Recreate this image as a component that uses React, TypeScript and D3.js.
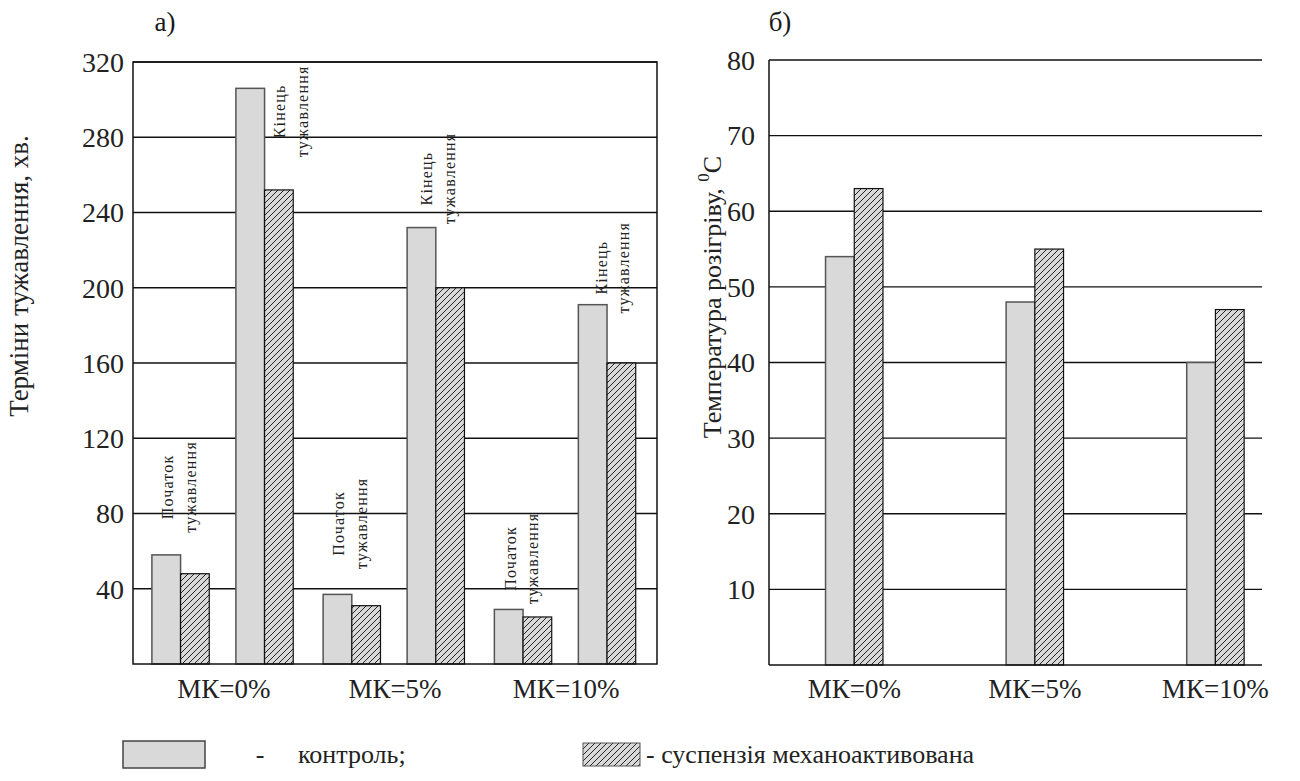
import React from 'react';
import * as d3 from 'd3';

// --- data ---
const groups = ['МК=0%', 'МК=5%', 'МК=10%'];
const phases = ['start', 'end'];
const seriesKeys = ['control', 'activated'];

// setting time, min (panel a)
const startControl = [58, 37, 29];
const startActivated = [48, 31, 25];
const endControl = [306, 232, 191];
const endActivated = [252, 200, 160];

// heating temperature, °C (panel b)
const tempControl = [54, 48, 40];
const tempActivated = [63, 55, 47];

const leftTicks = [40, 80, 120, 160, 200, 240, 280, 320];
const rightTicks = [10, 20, 30, 40, 50, 60, 70, 80];

const startNote = ['Початок', 'тужавлення'];
const endNote = ['Кінець', 'тужавлення'];

const W = 1300;
const H = 781;
const font = 'Liberation Serif, serif';
const grey = '#d9d9d9';
const ink = '#1a1a1a';

// hand placement of the small rotated notes (px, relative to the bars)
const startNoteLayout = [
  { dx: -2, lift: 19 },
  { dx: -2, lift: 22 },
  { dx: -2, lift: 2 },
];
const endNoteLayout = [
  { dx: 26, lift: -72 },
  { dx: 2, lift: 0 },
  { dx: 5, lift: -12 },
];

function Note({ cx, bottom, lines }: { cx: number; bottom: number; lines: string[] }) {
  const cy = bottom - 49;
  return (
    <text
      transform={`translate(${cx},${cy}) rotate(-90)`}
      textAnchor="middle"
      fontSize={16}
      letterSpacing={1.2}
      fill="#222"
    >
      <tspan x={0} y={-11} dominantBaseline="central">{lines[0]}</tspan>
      <tspan x={0} y={11.5} dominantBaseline="central">{lines[1]}</tspan>
    </text>
  );
}

function Bar({ x, y, w, h, kind }: { x: number; y: number; w: number; h: number; kind: string }) {
  return kind === 'control' ? (
    <rect x={x} y={y} width={w} height={h} fill={grey} stroke="#555" strokeWidth={1.5} />
  ) : (
    <rect x={x} y={y} width={w} height={h} fill="url(#hatch)" stroke="#111" strokeWidth={1.2} />
  );
}

export default function App() {
  // ---------- panel a ----------
  const aLeft = 133, aRight = 657, aTop = 62, aBottom = 664;
  const yA = d3.scaleLinear().domain([0, 320]).range([aBottom, aTop]);
  const xA = d3.scaleBand<string>().domain(groups).range([aLeft, aRight])
    .paddingInner(0).paddingOuter(0.03);
  const xPhase = d3.scaleBand<string>().domain(phases).range([0, xA.bandwidth()])
    .paddingInner(0.317).paddingOuter(0.178).align(0.46);
  const xSerA = d3.scaleBand<string>().domain(seriesKeys).range([0, xPhase.bandwidth()]);

  const aValues: Record<string, number[][]> = {
    start: [startControl, startActivated],
    end: [endControl, endActivated],
  };

  // ---------- panel b ----------
  const bLeft = 769, bRight = 1262, bTop = 60, bBottom = 665;
  const yB = d3.scaleLinear().domain([0, 80]).range([bBottom, bTop]);
  const xB = d3.scaleBand<string>().domain(groups).range([bLeft, bRight])
    .paddingInner(0.682).paddingOuter(0.206).align(0.76);
  const xSerB = d3.scaleBand<string>().domain(seriesKeys).range([0, xB.bandwidth()]);
  const bValues = [tempControl, tempActivated];

  return (
    <svg
      width={W}
      height={H}
      fontFamily={font}
      style={{ position: 'absolute', left: 0, top: 0, background: '#fff', fontFamily: font }}
    >
      <defs>
        <pattern id="hatch" patternUnits="userSpaceOnUse" width={6} height={6}>
          <rect width={6} height={6} fill={grey} />
          <path d="M-1,1 L1,-1 M0,6 L6,0 M5,7 L7,5" stroke="#111" strokeWidth={0.9} />
        </pattern>
      </defs>

      {/* panel letters */}
      <text x={165} y={31} textAnchor="middle" fontSize={27} fill={ink}>а)</text>
      <text x={780} y={31} textAnchor="middle" fontSize={27} fill={ink}>б)</text>

      {/* ----- panel a ----- */}
      <g>
        {leftTicks.map((t) => (
          <g key={t}>
            <line x1={aLeft} x2={aRight} y1={yA(t)} y2={yA(t)} stroke="#111" strokeWidth={1.3} />
            <text x={124} y={yA(t)} dy="0.35em" textAnchor="end" fontSize={28} fill="#222">
              {t}
            </text>
          </g>
        ))}
        {groups.map((g, gi) =>
          phases.map((p) =>
            seriesKeys.map((s, si) => {
              const v = aValues[p][si][gi];
              const x = (xA(g) ?? 0) + (xPhase(p) ?? 0) + (xSerA(s) ?? 0);
              return (
                <Bar key={g + p + s} x={x} y={yA(v)} w={xSerA.bandwidth()} h={yA(0) - yA(v)} kind={s} />
              );
            })
          )
        )}
        {groups.map((g, gi) => {
          const sx = (xA(g) ?? 0) + (xPhase('start') ?? 0) + xPhase.bandwidth() / 2;
          const ex = (xA(g) ?? 0) + (xPhase('end') ?? 0) + xPhase.bandwidth() / 2;
          return (
            <g key={'n' + g}>
              <Note cx={sx + startNoteLayout[gi].dx} bottom={yA(startControl[gi]) - startNoteLayout[gi].lift} lines={startNote} />
              <Note cx={ex + endNoteLayout[gi].dx} bottom={yA(endControl[gi]) - endNoteLayout[gi].lift} lines={endNote} />
            </g>
          );
        })}
        <rect x={aLeft} y={aTop} width={aRight - aLeft} height={aBottom - aTop} fill="none" stroke="#111" strokeWidth={1.5} />
        {groups.map((g) => (
          <text key={'xa' + g} x={(xA(g) ?? 0) + xA.bandwidth() / 2} y={698} textAnchor="middle" fontSize={27} fill="#222">
            {g}
          </text>
        ))}
        <text transform="translate(28,276) rotate(-90)" textAnchor="middle" fontSize={27} fill="#222">
          Терміни тужавлення, хв.
        </text>
      </g>

      {/* ----- panel b ----- */}
      <g>
        {rightTicks.map((t) => (
          <g key={t}>
            <line x1={bLeft} x2={bRight} y1={yB(t)} y2={yB(t)} stroke="#111" strokeWidth={1.3} />
            <text x={755} y={yB(t)} dy="0.35em" textAnchor="end" fontSize={28} fill="#222">
              {t}
            </text>
          </g>
        ))}
        {groups.map((g, gi) =>
          seriesKeys.map((s, si) => {
            const v = bValues[si][gi];
            const x = (xB(g) ?? 0) + (xSerB(s) ?? 0);
            return <Bar key={g + s} x={x} y={yB(v)} w={xSerB.bandwidth()} h={yB(0) - yB(v)} kind={s} />;
          })
        )}
        <line x1={bLeft} x2={bLeft} y1={bTop} y2={bBottom} stroke="#111" strokeWidth={1.5} />
        <line x1={bLeft} x2={bRight} y1={bBottom} y2={bBottom} stroke="#111" strokeWidth={1.5} />
        {groups.map((g) => (
          <text key={'xb' + g} x={(xB(g) ?? 0) + xB.bandwidth() / 2} y={698} textAnchor="middle" fontSize={27} fill="#222">
            {g}
          </text>
        ))}
        <text transform="translate(721,297) rotate(-90)" textAnchor="middle" fontSize={26} fill="#222">
          Температура розігріву,{' '}
          <tspan fontSize={17} dy="-0.7em">0</tspan>
          <tspan dy="0.45em">С</tspan>
        </text>
      </g>

      {/* ----- legend ----- */}
      <g fontSize={26} fill="#222">
        <rect x={123} y={741} width={82} height={27} fill={grey} stroke="#444" strokeWidth={1.5} />
        <text x={260} y={763} textAnchor="middle">-</text>
        <text x={298} y={763}>контроль;</text>
        <rect x={583} y={743} width={57} height={23} fill="url(#hatch)" stroke="#555" strokeWidth={1} />
        <text x={646} y={763}>- суспензія механоактивована</text>
      </g>
    </svg>
  );
}
